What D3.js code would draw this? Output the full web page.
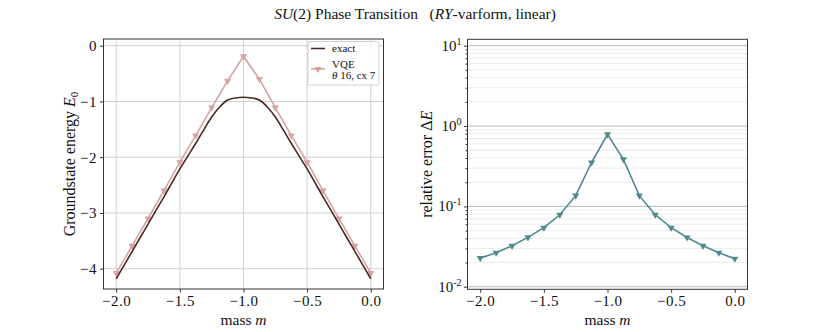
<!DOCTYPE html>
<html><head><meta charset="utf-8">
<script src="https://cdn.jsdelivr.net/npm/d3@7"></script>
<style>
body{margin:0;background:#fff;}
text{font-family:"Liberation Serif","Times New Roman",serif;fill:#111;}
</style></head>
<body><svg id="c" width="830" height="332"></svg>
<script>
// ---- data ----
const exactM = [-2,-1.9375,-1.875,-1.8125,-1.75,-1.6875,-1.625,-1.5625,-1.5,-1.4375,-1.375,-1.3125,-1.25,-1.1875,-1.125,-1.0625,-1,
  -0.9375,-0.875,-0.8125,-0.75,-0.6875,-0.625,-0.5625,-0.5,-0.4375,-0.375,-0.3125,-0.25,-0.1875,-0.125,-0.0625,0];
const exactE = [-4.18,-3.935,-3.69,-3.445,-3.20,-2.955,-2.71,-2.46,-2.21,-1.98,-1.75,-1.51,-1.28,-1.10,-0.975,-0.937,-0.926,
  -0.937,-0.975,-1.10,-1.28,-1.51,-1.75,-1.98,-2.21,-2.46,-2.71,-2.955,-3.20,-3.445,-3.69,-3.935,-4.18];
const vqeM = [-2,-1.875,-1.75,-1.625,-1.5,-1.375,-1.25,-1.125,-1,-0.875,-0.75,-0.625,-0.5,-0.375,-0.25,-0.125,0];
const vqeE = [-4.08,-3.59,-3.10,-2.60,-2.09,-1.61,-1.11,-0.63,-0.19,-0.60,-1.11,-1.61,-2.09,-2.60,-3.10,-3.59,-4.08];
const relErr = [0.0227,0.0265,0.0323,0.0411,0.0543,0.0787,0.136,0.352,0.79,0.385,0.136,0.0787,0.0543,0.041,0.0323,0.0265,0.0223];
const xTicks = [-2.0,-1.5,-1.0,-0.5,0.0];
const yTicksLeft = [0,-1,-2,-3,-4];
const logExps = [-2,-1,0,1];

const colExact="#4a2824", colVqe="#d8a2a2", colErr="#4e8a8f";
const svg=d3.select("#c");
const fmtX=d=>(d<0?"\u2212":"")+Math.abs(d).toFixed(1);
const fmtY=d=>(d<0?"\u2212":"")+Math.abs(d);
const TICKFS="15px";

// title
const t=svg.append("text").attr("x",415).attr("y",19).attr("text-anchor","middle").style("font-size","15.5px");
t.append("tspan").style("font-style","italic").text("SU");
t.append("tspan").text("(2) Phase Transition \u00a0\u00a0(");
t.append("tspan").style("font-style","italic").text("RY");
t.append("tspan").text("-varform, linear)");

// ---- left panel ----
const L={l:103.5,r:383.5,t:39,b:289};
const xL=d3.scaleLinear().domain([-2.1,0.1]).range([L.l,L.r]);
const yL=d3.scaleLinear().domain([-4.364,0.12]).range([L.b,L.t]);
const gL=svg.append("g");
gL.selectAll(".gx").data(xTicks).enter().append("line").attr("x1",d=>xL(d)).attr("x2",d=>xL(d)).attr("y1",L.t).attr("y2",L.b).attr("stroke","#d0d0d0").attr("stroke-width",1);
gL.selectAll(".gy").data(yTicksLeft).enter().append("line").attr("y1",d=>yL(d)).attr("y2",d=>yL(d)).attr("x1",L.l).attr("x2",L.r).attr("stroke","#d0d0d0").attr("stroke-width",1);
gL.append("path").datum(vqeM.map((m,i)=>[m,vqeE[i]])).attr("fill","none").attr("stroke",colVqe).attr("stroke-width",1.6)
  .attr("d",d3.line().x(d=>xL(d[0])).y(d=>yL(d[1])));
gL.selectAll(".mk").data(vqeM.map((m,i)=>[m,vqeE[i]])).enter().append("path")
  .attr("d",d3.symbol(d3.symbolTriangle,22)).attr("fill",colVqe)
  .attr("transform",d=>`translate(${xL(d[0])},${yL(d[1])}) rotate(180)`);
gL.append("path").datum(exactM.map((m,i)=>[m,exactE[i]])).attr("fill","none").attr("stroke",colExact).attr("stroke-width",1.6)
  .attr("d",d3.line().curve(d3.curveMonotoneX).x(d=>xL(d[0])).y(d=>yL(d[1])));
const axL=gL.append("g").attr("transform",`translate(0,${L.b})`).call(d3.axisBottom(xL).tickValues(xTicks).tickFormat(fmtX).tickSize(3.5).tickPadding(3));
const ayL=gL.append("g").attr("transform",`translate(${L.l},0)`).call(d3.axisLeft(yL).tickValues(yTicksLeft).tickFormat(fmtY).tickSize(3.5).tickPadding(3));
[axL,ayL].forEach(a=>{a.select(".domain").remove();a.selectAll("line").attr("stroke","#333");a.selectAll("text").style("font-size",TICKFS).style("font-family","Liberation Serif").style("letter-spacing","0.5px").attr("fill","#111");});
gL.append("rect").attr("x",L.l).attr("y",L.t).attr("width",L.r-L.l).attr("height",L.b-L.t).attr("fill","none").attr("stroke","#333").attr("stroke-width",1);
svg.append("text").attr("x",xL(-1)).attr("y",325).attr("text-anchor","middle").style("font-size","15.5px")
  .html('mass <tspan font-style="italic">m</tspan>');
svg.append("text").attr("transform",`translate(75,${(L.t+L.b)/2}) rotate(-90)`).attr("text-anchor","middle").style("font-size","16px")
  .html('Groundstate energy <tspan font-style="italic">E</tspan><tspan font-size="11px" dy="3">0</tspan>');
// legend
const lg=svg.append("g");
lg.append("rect").attr("x",308).attr("y",41.5).attr("width",71).attr("height",43.5).attr("rx",2).attr("fill","#fff").attr("fill-opacity",0.85).attr("stroke","#d0d0d0");
lg.append("line").attr("x1",311).attr("x2",325).attr("y1",48.5).attr("y2",48.5).attr("stroke",colExact).attr("stroke-width",1.6);
lg.append("text").attr("x",332).attr("y",52).style("font-size","11px").text("exact");
lg.append("line").attr("x1",311).attr("x2",325).attr("y1",69).attr("y2",69).attr("stroke",colVqe).attr("stroke-width",1.6);
lg.append("path").attr("d",d3.symbol(d3.symbolTriangle,22)).attr("fill",colVqe).attr("transform","translate(318,69) rotate(180)");
lg.append("text").attr("x",332).attr("y",68).style("font-size","11px").text("VQE");
lg.append("text").attr("x",332).attr("y",78.5).style("font-size","11px").html('<tspan font-style="italic">θ</tspan> 16, cx 7');

// ---- right panel ----
const R={l:467.5,r:747.5,t:39.3,b:289.3};
const xR=d3.scaleLinear().domain([-2.1,0.1]).range([R.l,R.r]);
const yR=d3.scaleLog().domain([Math.pow(10,-2.032),Math.pow(10,1.08)]).range([R.b,R.t]);
const gR=svg.append("g");
const minor=[];
logExps.forEach(e=>{for(let k=2;k<=9;k++){const v=k*Math.pow(10,e);if(v<yR.domain()[1]&&v>yR.domain()[0])minor.push(v);}});
[0.009].forEach(v=>{if(v>yR.domain()[0])minor.push(v);});
gR.selectAll(".mg").data(minor).enter().append("line").attr("y1",d=>yR(d)).attr("y2",d=>yR(d)).attr("x1",R.l).attr("x2",R.r).attr("stroke","#ececec").attr("stroke-width",1);
gR.selectAll(".Mg").data(logExps).enter().append("line").attr("y1",d=>yR(Math.pow(10,d))).attr("y2",d=>yR(Math.pow(10,d))).attr("x1",R.l).attr("x2",R.r).attr("stroke","#b8b8b8").attr("stroke-width",1);
gR.append("path").datum(vqeM.map((m,i)=>[m,relErr[i]])).attr("fill","none").attr("stroke",colErr).attr("stroke-width",1.6)
  .attr("d",d3.line().x(d=>xR(d[0])).y(d=>yR(d[1])));
gR.selectAll(".mk").data(vqeM.map((m,i)=>[m,relErr[i]])).enter().append("path")
  .attr("d",d3.symbol(d3.symbolTriangle,22)).attr("fill",colErr)
  .attr("transform",d=>`translate(${xR(d[0])},${yR(d[1])}) rotate(180)`);
const axR=gR.append("g").attr("transform",`translate(0,${R.b})`).call(d3.axisBottom(xR).tickValues(xTicks).tickFormat(fmtX).tickSize(3.5).tickPadding(3));
const ayR=gR.append("g").attr("transform",`translate(${R.l},0)`).call(d3.axisLeft(yR).tickValues(logExps.map(e=>Math.pow(10,e))).tickFormat("").tickSize(3.5));
const ayRm=gR.append("g").attr("transform",`translate(${R.l},0)`).call(d3.axisLeft(yR).tickValues(minor).tickFormat("").tickSize(2));
[axR,ayR,ayRm].forEach(a=>{a.select(".domain").remove();a.selectAll("line").attr("stroke","#333");a.selectAll("text").style("font-size",TICKFS).style("font-family","Liberation Serif").style("letter-spacing","0.5px").attr("fill","#111");});
const ll=gR.selectAll(".ll").data(logExps).enter().append("text").attr("x",R.l-6).attr("y",d=>yR(Math.pow(10,d))+5).attr("text-anchor","end").style("font-size","15px");
ll.append("tspan").text("10");
ll.append("tspan").attr("font-size","10px").attr("dy",-6).text(d=>d<0?"-"+Math.abs(d):String(d));
gR.append("rect").attr("x",R.l).attr("y",R.t).attr("width",R.r-R.l).attr("height",R.b-R.t).attr("fill","none").attr("stroke","#333").attr("stroke-width",1);
svg.append("text").attr("x",xR(-1)).attr("y",325).attr("text-anchor","middle").style("font-size","15.5px")
  .html('mass <tspan font-style="italic">m</tspan>');
svg.append("text").attr("transform",`translate(432,${(R.t+R.b)/2}) rotate(-90)`).attr("text-anchor","middle").style("font-size","16px")
  .html('relative error Δ<tspan font-style="italic">E</tspan>');
</script></body></html>
